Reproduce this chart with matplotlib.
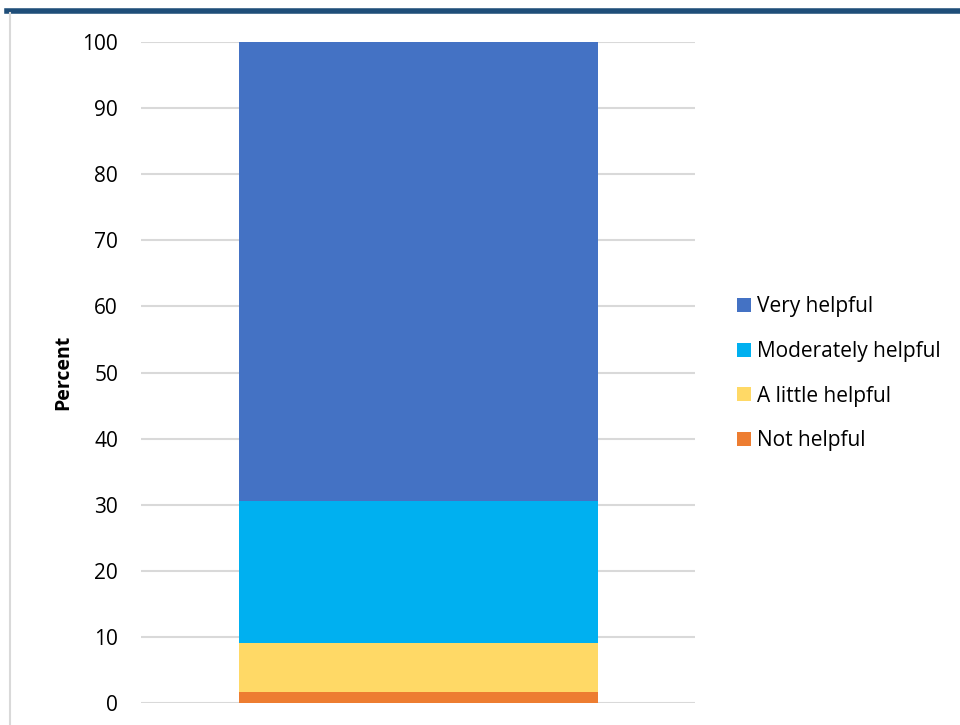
import matplotlib.pyplot as plt
from matplotlib.patches import Patch
from matplotlib.lines import Line2D

plt.rcParams['font.family'] = ['Open Sans', 'DejaVu Sans']

categories = ["Not helpful", "A little helpful", "Moderately helpful", "Very helpful"]
values = [1.7, 7.4, 21.5, 69.4]
colors = ["#ED7D31", "#FFD966", "#00B0F0", "#4472C4"]
yticks = [0, 10, 20, 30, 40, 50, 60, 70, 80, 90, 100]

fig = plt.figure(figsize=(9.6, 7.25), dpi=100)
ax = fig.add_axes([0.1469, 0.0303, 0.5771, 0.9117])

bottom = 0
for cat, val, col in zip(categories, values, colors):
    ax.bar(0, val, width=0.648, bottom=bottom, color=col, label=cat, zorder=3)
    bottom += val

ax.set_xlim(-0.5, 0.5)
ax.set_ylim(0, 100)
ax.set_yticks(yticks)
ax.set_xticks([])
ax.tick_params(axis="y", length=0, labelsize=15, pad=16.5)
ax.grid(axis="y", color="#D9D9D9", linewidth=1.5, zorder=0)
for s in ax.spines.values():
    s.set_visible(False)
ax.set_ylabel("Percent", fontweight="bold", fontsize=14)
ax.yaxis.set_label_coords(-0.122, 0.5)

# legend in reverse order (top = Very helpful)
handles = [Patch(facecolor=c, label=l) for l, c in zip(categories[::-1], colors[::-1])]
fig.legend(handles=handles, loc="center left", bbox_to_anchor=(0.768, 0.4845),
           frameon=False, fontsize=15, handlelength=0.67, handleheight=0.67,
           handletextpad=0.3, labelspacing=1.13, borderpad=0, borderaxespad=0)

# page decorations: dark blue rule at the top and grey left border
fig.add_artist(Line2D([0.007, 1.0], [0.9855, 0.9855], color="#1F4E79",
                      linewidth=4, transform=fig.transFigure))
fig.add_artist(Line2D([0.0105, 0.0105], [0.0, 0.982], color="#D9D9D9",
                      linewidth=1.5, transform=fig.transFigure))

fig.savefig("out.png", dpi=100)
